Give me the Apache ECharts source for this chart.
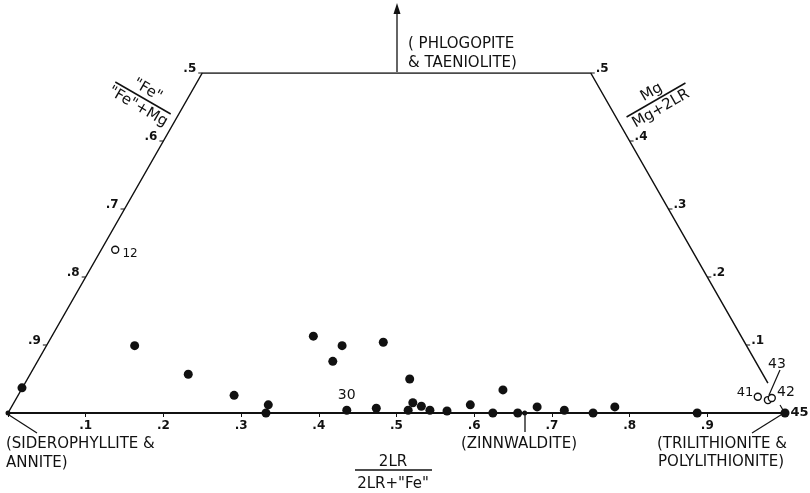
<!DOCTYPE html>
<html>
<head>
<meta charset="utf-8">
<title>Mica composition diagram</title>
<script src="https://cdn.jsdelivr.net/npm/echarts/dist/echarts.min.js"></script>
<style>
  html, body { margin: 0; padding: 0; background: #fff; }
  #chart { width: 810px; height: 493px; }
</style>
</head>
<body>
<div id="chart"></div>
<script>
// x = 2LR/(2LR+"Fe") along the base, y = Mg fraction (apex of the triangle cut at .5)
const solidX  = [0.018, 0.163, 0.232, 0.291, 0.335, 0.332, 0.393, 0.430, 0.418, 0.483, 0.517, 0.436, 0.474, 0.515,
                 0.521, 0.532, 0.543, 0.565, 0.595, 0.624, 0.637, 0.656, 0.681, 0.716, 0.753, 0.781, 0.887, 1.000]
const solidMg = [0.037, 0.099, 0.057, 0.026, 0.012, 0.000, 0.113, 0.099, 0.076, 0.104, 0.050, 0.004, 0.007, 0.004,
                 0.015, 0.010, 0.004, 0.003, 0.012, 0.000, 0.034, 0.000, 0.009, 0.004, 0.000, 0.009, 0.000, 0.000]
const solidIds = {11: '30', 27: '45'}   // index -> sample number shown beside the dot

const smallX  = [0.000, 0.665]
const smallMg = [0.000, 0.000]

const openX   = [0.138, 0.965, 0.978, 0.983]
const openMg  = [0.240, 0.024, 0.019, 0.022]
const openIds = ['12', '41', '42', '43']

// trapezoid outline (left edge, top, right edge)
const outlineX  = [0, 0.25, 0.75, 0.978]
const outlineMg = [0, 0.5, 0.5, 0.044]

// side scales
const leftTicks  = [0.5, 0.6, 0.7, 0.8, 0.9]   // "Fe"/("Fe"+Mg)
const rightTicks = [0.5, 0.4, 0.3, 0.2, 0.1]   // Mg/(Mg+2LR)
const baseTicks  = [0.1, 0.2, 0.3, 0.4, 0.5, 0.6, 0.7, 0.8, 0.9]

const INK = '#111'
const FONT = 'DejaVu Sans'

const chart = echarts.init(document.getElementById('chart'))

function tickLabel(v) {
  return '.' + Math.round(v * 10)
}

// ticks on the slanted edges, placed through the grid's coord()
function edgeTicks(side) {
  return function (params, api) {
    const p = api.coord([api.value(0), api.value(1)])
    const left = side === 'left'
    return {
      type: 'group',
      children: [
        {
          type: 'line',
          shape: {x1: p[0] + (left ? -4 : 4), y1: p[1], x2: p[0], y2: p[1]},
          style: {stroke: INK, lineWidth: 1}
        },
        {
          type: 'text',
          x: p[0] + (left ? -6 : 5),
          y: p[1] - 4,
          style: {
            text: tickLabel(api.value(2)),
            textAlign: left ? 'right' : 'left',
            textVerticalAlign: 'middle',
            font: 'bold 12px ' + FONT,
            fill: INK
          }
        }
      ]
    }
  }
}

function txt(x, y, s, align, size) {
  return {
    type: 'text', x: x, y: y, silent: true,
    style: {text: s, textAlign: align || 'left', textVerticalAlign: 'middle',
            font: (size || 15) + 'px ' + FONT, fill: INK}
  }
}
function seg(x1, y1, x2, y2, w) {
  return {type: 'line', silent: true, shape: {x1: x1, y1: y1, x2: x2, y2: y2},
          style: {stroke: INK, lineWidth: w || 1.2}}
}
function fraction(cx, cy, rot, top, bottom, half) {
  return {
    type: 'group', x: cx, y: cy, rotation: rot, silent: true,
    children: [
      txt(0, -9, top, 'center', 15),
      seg(-half, 0, half, 0, 1.5),
      txt(0, 10, bottom, 'center', 15)
    ]
  }
}

const idLabel = {show: true, color: INK, fontSize: 14, fontFamily: FONT}

const option = {
  animation: false,
  grid: {left: 8, right: 25, top: 73, bottom: 80, containLabel: false},
  xAxis: {
    type: 'value', min: 0, max: 1, interval: 0.1,
    splitLine: {show: false},
    axisLine: {lineStyle: {color: INK, width: 2}},
    axisTick: {show: true, inside: false, length: 4, lineStyle: {color: INK, width: 1}},
    axisLabel: {
      margin: 7, color: INK, fontSize: 12, fontWeight: 'bold', fontFamily: FONT,
      formatter: v => baseTicks.some(t => Math.abs(t - v) < 1e-6) ? tickLabel(v) : ''
    }
  },
  yAxis: {type: 'value', min: 0, max: 0.5, show: false},
  series: [
    {
      type: 'line', silent: true, symbol: 'none',
      data: outlineX.map((x, i) => [x, outlineMg[i]]),
      lineStyle: {color: INK, width: 1.5}
    },
    {
      type: 'custom', silent: true,
      renderItem: edgeTicks('left'),
      data: leftTicks.map(f => [(1 - f) / 2, 1 - f, f])
    },
    {
      type: 'custom', silent: true,
      renderItem: edgeTicks('right'),
      data: rightTicks.map(m => [1 - m / 2, m, m])
    },
    {
      type: 'scatter', symbol: 'circle', symbolSize: 9,
      itemStyle: {color: INK, opacity: 1},
      data: solidX.map((x, i) => ({
        value: [x, solidMg[i]],
        label: solidIds[i] === '30'
          ? Object.assign({}, idLabel, {formatter: '30', position: 'top', distance: 3})
          : (solidIds[i]
            ? Object.assign({}, idLabel, {formatter: solidIds[i], position: 'right', distance: 1, fontWeight: 'bold', fontSize: 13})
            : {show: false})
      }))
    },
    {
      type: 'scatter', symbol: 'circle', symbolSize: 5,
      itemStyle: {color: INK, opacity: 1},
      data: smallX.map((x, i) => [x, smallMg[i]])
    },
    {
      type: 'scatter', symbol: 'circle', symbolSize: 7,
      itemStyle: {color: '#fff', borderColor: INK, borderWidth: 1.4, opacity: 1},
      data: openX.map((x, i) => ({
        value: [x, openMg[i]],
        label: openIds[i] === '12'
          ? Object.assign({}, idLabel, {formatter: '12', position: 'right', distance: 3, offset: [0, 4], fontSize: 12})
          : {show: false}
      }))
    }
  ],
  graphic: [
    // arrow toward phlogopite apex
    seg(397, 72, 397, 12, 1.3),
    {type: 'polygon', silent: true, shape: {points: [[397, 3], [393.5, 14], [400.5, 14]]}, style: {fill: INK}},
    txt(408, 44, '( PHLOGOPITE'),
    txt(408, 63, '& TAENIOLITE)'),

    // axis titles
    fraction(143, 98, -Math.PI / 6, '"Fe"', '"Fe"+Mg', 32),
    fraction(656, 100, Math.PI / 6, 'Mg', 'Mg+2LR', 34),
    txt(393, 462, '2LR', 'center', 15),
    seg(355, 470, 432, 470, 1.5),
    txt(393, 484, '2LR+"Fe"', 'center', 15),

    // end-member names
    seg(9, 415, 37, 433),
    txt(6, 444, '(SIDEROPHYLLITE &'),
    txt(6, 463, 'ANNITE)'),
    seg(525, 415, 525, 432, 1.3),
    txt(519, 444, '(ZINNWALDITE)', 'center'),
    seg(784, 413, 752, 433),
    txt(787, 444, '(TRILITHIONITE &', 'right'),
    txt(784, 462, 'POLYLITHIONITE)', 'right'),

    // sample numbers near the lithium corner
    txt(777, 364, '43', 'center', 14),
    seg(780, 370, 769, 395),
    txt(745, 393, '41', 'center', 13),
    txt(786, 392, '42', 'center', 14),
    seg(780, 405, 783, 410)
  ]
}

chart.setOption(option)
</script>
</body>
</html>
